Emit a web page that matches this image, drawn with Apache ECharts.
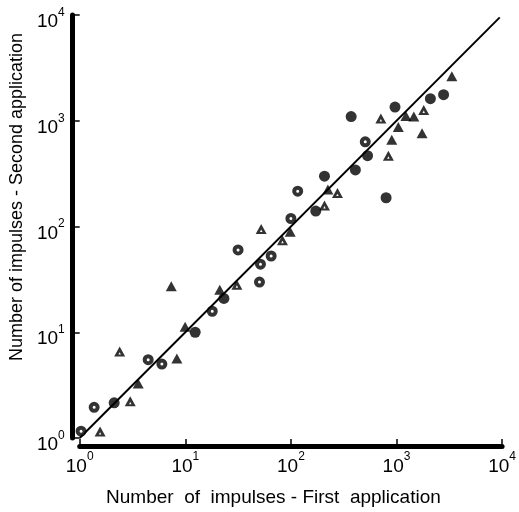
<!DOCTYPE html>
<html>
<head>
<meta charset="utf-8">
<script src="https://cdn.jsdelivr.net/npm/echarts@6/dist/echarts.min.js"></script>
<style>
  html, body { margin: 0; padding: 0; background: #fff; }
  #chart { width: 519px; height: 512px; }
</style>
</head>
<body>
<div id="chart"></div>
<script>
// [first application, second application]
const dotCircles = [
  [1.03, 1.16], [1.37, 1.95], [4.45, 5.5], [6.0, 5.0], [18, 15.8], [31.6, 60],
  [50.4, 29.8], [51.5, 44], [65, 52.6], [100, 119], [116, 216], [506, 632]
];
const filledCircles = [
  [2.12, 2.15], [12.4, 10.0], [23.2, 20.9], [172, 140], [208, 299], [372, 1095],
  [408, 343], [532, 467], [797, 187], [968, 1348], [2094, 1616], [2792, 1762]
];
const filledTriangles = [
  [3.58, 3.28], [7.36, 27.2], [8.32, 5.64], [9.96, 11.3], [21.2, 25.2], [98.5, 89],
  [224, 224], [902, 660], [1040, 875], [1228, 1110], [1459, 1095], [1746, 763], [3342, 2635]
];
const openTriangles = [
  [1.56, 1.15], [3.01, 2.22], [2.39, 6.56], [30.8, 28.1], [52.3, 94.8], [83.2, 74.3],
  [208, 158], [276, 207], [711, 1050], [838, 467], [1811, 1262]
];
const identityLine = [[1, 1], [9500, 9500]];

const FONT = '"Liberation Sans", Arial, sans-serif';
const OPEN_TRI = 'path://M5,0L10,9L0,9Z M5,5L3.9,7.2L6.1,7.2Z';

// "10" with a raised exponent
const powerLabel = v => '{a|10}{b|' + Math.round(Math.log10(v)) + '}';
const labelRich = {
  a: { fontSize: 19, fontFamily: FONT, color: '#000', lineHeight: 25, verticalAlign: 'bottom' },
  b: { fontSize: 12, fontFamily: FONT, color: '#000', lineHeight: 12, verticalAlign: 'top' }
};

const axisBase = {
  type: 'log', logBase: 10, min: 1, max: 10000,
  axisLine: { lineStyle: { color: '#000', width: 5 } },
  axisTick: { inside: true, length: 7, lineStyle: { color: '#000', width: 1.5 } },
  splitLine: { show: false },
  nameLocation: 'middle'
};

const chart = echarts.init(document.getElementById('chart'), null, { renderer: 'canvas' });
chart.setOption({
  backgroundColor: '#fff',
  animation: false,
  grid: { left: 77, right: 16, top: 15, bottom: 71 },
  xAxis: Object.assign({}, axisBase, {
    offset: 8,
    axisLabel: { formatter: powerLabel, rich: labelRich, margin: 5 },
    name: 'Number  of  impulses - First  application',
    nameGap: 42,
    nameTextStyle: { fontSize: 19, fontFamily: FONT, color: '#000', padding: [0, 35, 0, 0] }
  }),
  yAxis: Object.assign({}, axisBase, {
    offset: 7,
    axisLabel: { formatter: powerLabel, rich: labelRich, margin: 8, padding: [8, 0, 0, 0] },
    name: 'Number of impulses - Second application',
    nameGap: 44,
    nameTextStyle: { fontSize: 18, fontFamily: FONT, color: '#000', padding: [0, 0, 0, 59] }
  }),
  series: [
    {
      type: 'line', data: identityLine, symbol: 'none', z: 1,
      lineStyle: { color: '#000', width: 2 }
    },
    {
      type: 'scatter', data: filledCircles, symbol: 'circle', symbolSize: 11, clip: false, z: 3,
      itemStyle: { color: '#000' }
    },
    {
      type: 'scatter', data: dotCircles, symbol: 'circle', symbolSize: 7, clip: false, z: 3,
      itemStyle: { color: '#fff', borderColor: '#000', borderWidth: 4 }
    },
    {
      type: 'scatter', data: filledTriangles, symbol: 'triangle', symbolSize: [11, 10], clip: false, z: 3,
      itemStyle: { color: '#000' }
    },
    {
      type: 'scatter', data: openTriangles, symbol: OPEN_TRI, symbolSize: [11, 10], clip: false, z: 3,
      itemStyle: { color: '#000' }
    }
  ]
});
</script>
</body>
</html>
